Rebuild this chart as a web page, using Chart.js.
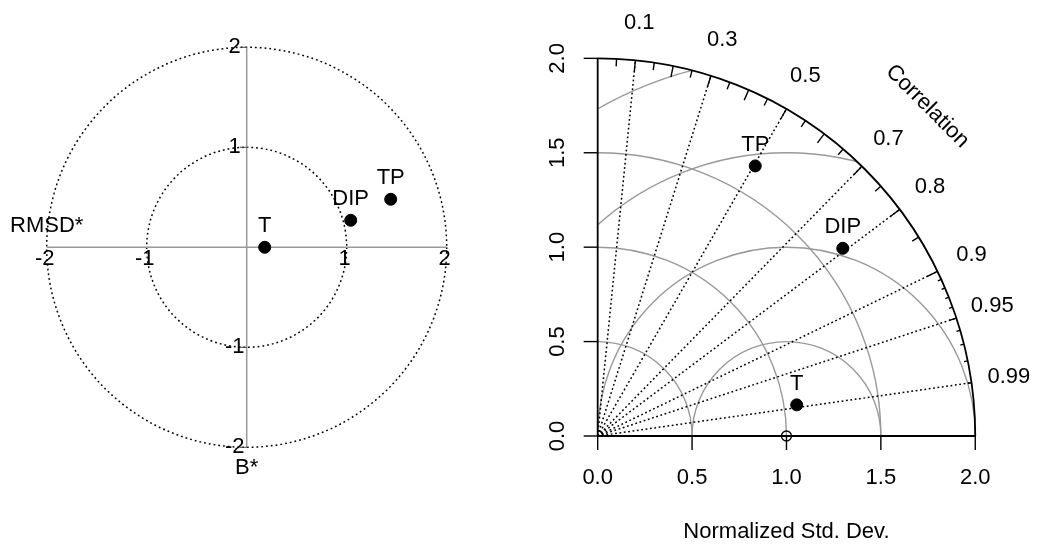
<!DOCTYPE html>
<html>
<head>
<meta charset="utf-8">
<script src="https://cdn.jsdelivr.net/npm/chart.js@4.4.1/dist/chart.umd.min.js"></script>
<style>
html, body { margin: 0; padding: 0; background: #fff; }
#wrap { position: relative; width: 1037px; height: 544px; }
canvas { position: absolute; top: 0; }
#target { left: 0; }
#taylor { left: 518px; }
</style>
</head>
<body>
<div id="wrap">
  <canvas id="target" width="518" height="544"></canvas>
  <canvas id="taylor" width="519" height="544"></canvas>
</div>
<script>
// ======= data =======
const models = ['T', 'DIP', 'TP'];

// target diagram (normalized unbiased RMSD and bias)
const rmsdStar = [0.18, 1.04, 1.44];
const biasStar = [0.00, 0.27, 0.48];
const targetCircles = [1, 2];
const targetTicks = [-2, -1, 1, 2];

// taylor diagram
const stdDev = [1.067, 1.635, 1.656];
const correlation = [0.988, 0.794, 0.504];
const corrLabels = [0.1, 0.3, 0.5, 0.7, 0.8, 0.9, 0.95, 0.99];
const bigTicks = [0.1, 0.2, 0.3, 0.4, 0.5, 0.6, 0.7, 0.8, 0.9];
const medTicks = [0.05, 0.15, 0.25, 0.35, 0.45, 0.55, 0.65, 0.75, 0.85, 0.95];
const smallTicks = [0.91, 0.92, 0.93, 0.94, 0.96, 0.97, 0.98, 0.99];
const sdTicks = [0, 0.5, 1, 1.5, 2];
const sdArcs = [0.5, 1, 1.5];
const rmsArcs = [0.5, 1, 1.5, 2];
const refSd = 1;
const maxSd = 2;

const FONT = "22px 'Liberation Sans', Arial, Helvetica, sans-serif";
const GRAY = '#999999';

// ======= helpers =======
function P(chart, x, y) {
    return { x: chart.scales.x.getPixelForValue(x), y: chart.scales.y.getPixelForValue(y) };
}
function unit(chart) {
    return chart.scales.x.getPixelForValue(1) - chart.scales.x.getPixelForValue(0);
}
function line(ctx, a, b) {
    ctx.beginPath();
    ctx.moveTo(a.x, a.y);
    ctx.lineTo(b.x, b.y);
    ctx.stroke();
}
function text(ctx, s, x, y) {
    ctx.fillText(s, x, y);
}
function pointLabels(chart) {
    const ctx = chart.ctx;
    const meta = chart.getDatasetMeta(0);
    ctx.save();
    ctx.font = FONT;
    ctx.fillStyle = '#000';
    ctx.textAlign = 'center';
    ctx.textBaseline = 'middle';
    meta.data.forEach((pt, i) => text(ctx, models[i], pt.x, pt.y - 21));
    ctx.restore();
}

function baseOptions(xmin, xmax, ymin, ymax) {
    return {
        responsive: false,
        animation: false,
        layout: { padding: 0, autoPadding: false },
        plugins: { legend: { display: false }, tooltip: { enabled: false } },
        scales: {
            x: { type: 'linear', min: xmin, max: xmax, display: false },
            y: { type: 'linear', min: ymin, max: ymax, display: false }
        }
    };
}

// ======= target diagram =======
const targetGrid = {
    id: 'targetGrid',
    beforeDatasetsDraw(chart) {
        const ctx = chart.ctx;
        const u = unit(chart);
        const c = P(chart, 0, 0);
        ctx.save();

        // dotted circles
        ctx.strokeStyle = '#000';
        ctx.lineWidth = 1.5;
        ctx.setLineDash([1.8, 3]);
        targetCircles.forEach(r => {
            ctx.beginPath();
            ctx.arc(c.x, c.y, r * u, 0, Math.PI * 2);
            ctx.stroke();
        });
        ctx.setLineDash([]);

        // axes
        ctx.strokeStyle = GRAY;
        ctx.lineWidth = 1.5;
        line(ctx, P(chart, -2, 0), P(chart, 2, 0));
        line(ctx, P(chart, 0, -2), P(chart, 0, 2));

        // y ticks
        ctx.strokeStyle = '#444';
        ctx.lineWidth = 1;
        targetTicks.forEach(v => {
            const p = P(chart, 0, v);
            line(ctx, { x: p.x - 7, y: p.y }, p);
        });

        // tick labels
        ctx.font = FONT;
        ctx.fillStyle = '#000';
        ctx.textAlign = 'center';
        ctx.textBaseline = 'middle';
        targetTicks.forEach(v => {
            const px = P(chart, v, 0);
            text(ctx, String(v), px.x - 2, px.y + 12);
            const py = P(chart, 0, v);
            text(ctx, String(v), py.x - 12, py.y);
        });

        // axis names
        const r = P(chart, -2, 0);
        text(ctx, 'RMSD*', r.x, r.y - 21);
        const b = P(chart, 0, -2);
        text(ctx, 'B*', b.x, b.y + 21);
        ctx.restore();
    },
    afterDatasetsDraw(chart) {
        pointLabels(chart);
    }
};

new Chart(document.getElementById('target'), {
    type: 'scatter',
    data: {
        datasets: [{
            data: models.map((m, i) => ({ x: rmsdStar[i], y: biasStar[i] })),
            backgroundColor: '#000',
            borderColor: '#000',
            pointRadius: 6,
            clip: false
        }]
    },
    options: baseOptions(-2.467, 2.713, -2.967, 2.473),
    plugins: [targetGrid]
});

// ======= taylor diagram =======
const taylorGrid = {
    id: 'taylorGrid',
    beforeDatasetsDraw(chart) {
        const ctx = chart.ctx;
        const u = unit(chart);
        const o = P(chart, 0, 0);
        const ref = P(chart, refSd, 0);
        ctx.save();

        // sd arcs around origin
        ctx.strokeStyle = GRAY;
        ctx.lineWidth = 1.4;
        sdArcs.forEach(r => {
            ctx.beginPath();
            ctx.arc(o.x, o.y, r * u, -Math.PI / 2, 0);
            ctx.stroke();
        });

        // centred RMS arcs around the reference, clipped to the quarter circle
        ctx.save();
        ctx.beginPath();
        ctx.moveTo(o.x, o.y);
        ctx.arc(o.x, o.y, maxSd * u, -Math.PI / 2, 0);
        ctx.closePath();
        ctx.clip();
        rmsArcs.forEach(r => {
            ctx.beginPath();
            ctx.arc(ref.x, ref.y, r * u, Math.PI, 2 * Math.PI);
            ctx.stroke();
        });
        ctx.restore();

        // correlation rays
        ctx.strokeStyle = '#000';
        ctx.lineWidth = 1.5;
        ctx.setLineDash([1.8, 2.6]);
        corrLabels.forEach(c => {
            const s = Math.sqrt(1 - c * c);
            line(ctx, o, P(chart, c * maxSd, s * maxSd));
        });
        ctx.setLineDash([]);

        // outer arc and axes
        ctx.lineWidth = 1.8;
        ctx.beginPath();
        ctx.arc(o.x, o.y, maxSd * u, -Math.PI / 2, 0);
        ctx.stroke();
        line(ctx, o, P(chart, 0, maxSd));
        line(ctx, o, P(chart, maxSd, 0));

        // ticks on the outer arc
        ctx.lineWidth = 1.4;
        [[bigTicks, 0.97], [medTicks, 0.98], [smallTicks, 0.99]].forEach(([list, k]) => {
            list.forEach(c => {
                const s = Math.sqrt(1 - c * c);
                line(ctx, P(chart, c * maxSd, s * maxSd), P(chart, c * maxSd * k, s * maxSd * k));
            });
        });

        // axis ticks
        sdTicks.forEach(v => {
            const pb = P(chart, v, 0);
            line(ctx, pb, { x: pb.x, y: pb.y + 14 });
            const pl = P(chart, 0, v);
            line(ctx, pl, { x: pl.x - 14, y: pl.y });
        });

        // labels
        ctx.font = FONT;
        ctx.fillStyle = '#000';
        ctx.textAlign = 'center';
        ctx.textBaseline = 'middle';
        sdTicks.forEach(v => {
            const pb = P(chart, v, 0);
            text(ctx, v.toFixed(1), pb.x, pb.y + 42);
            const pl = P(chart, 0, v);
            ctx.save();
            ctx.translate(pl.x - 40, pl.y);
            ctx.rotate(-Math.PI / 2);
            text(ctx, v.toFixed(1), 0, 0);
            ctx.restore();
        });
        corrLabels.forEach(c => {
            const s = Math.sqrt(1 - c * c);
            const p = P(chart, c * 2.2, s * 2.2);
            text(ctx, String(c), p.x, p.y);
        });
        const cl = P(chart, 2.47 * Math.SQRT1_2, 2.47 * Math.SQRT1_2);
        ctx.save();
        ctx.translate(cl.x, cl.y);
        ctx.rotate(Math.PI / 4);
        text(ctx, 'Correlation', 0, 0);
        ctx.restore();
        const t = P(chart, 1, 0);
        text(ctx, 'Normalized Std. Dev.', t.x, t.y + 96);

        // reference point
        ctx.lineWidth = 1.3;
        ctx.beginPath();
        ctx.arc(ref.x, ref.y, 5, 0, Math.PI * 2);
        ctx.stroke();
        ctx.restore();
    },
    afterDatasetsDraw(chart) {
        pointLabels(chart);
    }
};

new Chart(document.getElementById('taylor'), {
    type: 'scatter',
    data: {
        datasets: [{
            data: models.map((m, i) => ({
                x: stdDev[i] * correlation[i],
                y: stdDev[i] * Math.sqrt(1 - correlation[i] * correlation[i])
            })),
            backgroundColor: '#000',
            borderColor: '#000',
            pointRadius: 6,
            clip: false
        }]
    },
    options: baseOptions(-0.422, 2.327, -0.572, 2.309),
    plugins: [taylorGrid]
});
</script>
</body>
</html>
